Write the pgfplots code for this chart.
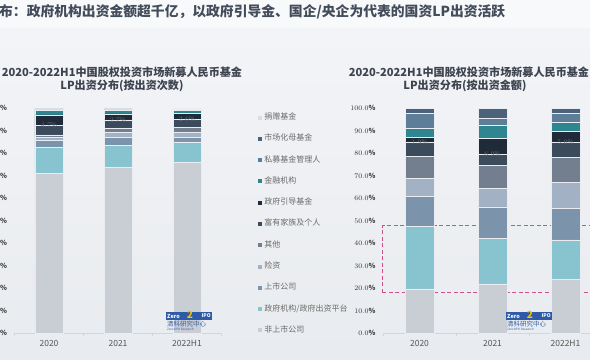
\documentclass[border=0pt]{standalone}
\usepackage{pgfplots}
\pgfplotsset{compat=1.18}
\usepackage{pgfplotstable}
\usepackage{fontspec}
\setmainfont{Noto Sans CJK SC}

\definecolor{cNon}{HTML}{C9CDD4}
\definecolor{cGov}{HTML}{88C4CF}
\definecolor{cList}{HTML}{7B93AB}
\definecolor{cIns}{HTML}{A2B2C4}
\definecolor{cOth}{HTML}{737F8F}
\definecolor{cFam}{HTML}{3C4B5C}
\definecolor{cGuide}{HTML}{1F2B38}
\definecolor{cFin}{HTML}{2E8691}
\definecolor{cPE}{HTML}{5E7D99}
\definecolor{cFoF}{HTML}{4C627A}
\definecolor{cEnd}{HTML}{DADDE2}
\definecolor{sepc}{HTML}{E9ECF0}
\definecolor{bgtop}{HTML}{F8F9FB}
\definecolor{bgmid}{HTML}{F3F4F7}
\definecolor{bgbot}{HTML}{E8EBEF}
\definecolor{axisgray}{HTML}{D3D7DC}
\definecolor{ticktext}{HTML}{333333}
\definecolor{xlabtext}{HTML}{555555}
\definecolor{legtext}{HTML}{6B6B6B}
\definecolor{titlec}{HTML}{3D4450}
\definecolor{headc}{HTML}{434C5B}
\definecolor{pinkc}{HTML}{D0508A}
\definecolor{logob}{HTML}{2F5AA8}
\definecolor{logoy}{HTML}{F2C01E}

% columns: x non gov list ins oth fam guide fin pe fof end
\pgfplotstableread{
x non  gov  list ins oth fam guide fin pe  fof end
0 70.8 11.6 3.1  1.3 1.3 4.2 4.7   2.2 0.4 0.2 0.2
1 73.6 9.9  3.6  2.2 1.8 3.6 2.7   1.8 0.4 0.3 0.1
2 75.9 9.0  2.2  2.2 2.0 3.8 2.6   1.4 0.4 0.3 0.2
}\countdata
\pgfplotstableread{
x non  gov  list ins  oth  fam guide fin pe  fof end
0 19.6 27.8 13.4 8.0  9.8  6.4 1.9   4.2 6.4 2.3 0.2
1 21.8 20.4 13.9 8.1  10.2 5.1 6.9   5.8 3.2 4.4 0.2
2 23.9 17.5 14.1 11.4 11.1 6.7 5.0   4.0 3.9 2.3 0.1
}\amountdata

\pgfplotsset{
  mybase/.style={
    scale only axis,
    height=225bp,
    ybar stacked,
    ymin=0, ymax=100,
    xmin=-0.5, xmax=2.5,
    enlargelimits=false,
    axis lines*=left,
    y axis line style={draw=none},
    x axis line style={draw=axisgray, line width=0.8bp},
    xtick={0,1,2},
    xticklabels={2020,2021,2022H1},
    minor xtick={-0.5,0.5,1.5,2.5},
    major tick length=0pt,
    minor tick length=3bp,
    tick align=outside,
    xtick style={draw=none},
    ytick style={draw=none},
    minor x tick style={draw=axisgray, line width=0.6bp},
    ytick={0,10,...,100},
    xticklabel style={font=\fontsize{8.5bp}{10bp}\selectfont, text=xlabtext, yshift=-3.5bp},
    yticklabel style={font=\bfseries\fontsize{7bp}{8bp}\selectfont, text=ticktext, xshift=-4bp},
    every axis plot/.append style={draw=sepc, line width=0.5bp},
  },
  guidelabel/.style={
    nodes near coords={\pgfmathprintnumber[fixed,fixed zerofill,precision=1]{\pgfplotspointmeta}\%},
    point meta=explicit,
    visualization depends on={rawy \as \rawy},
    every node near coord/.append style={anchor=center, yshift={-1.125bp*\rawy}, font=\fontsize{6.5bp}{7bp}\selectfont, text=#1, inner sep=0pt},
  },
}

\begin{document}
\begin{tikzpicture}
\useasboundingbox (0bp,0bp) rectangle (590bp,-360bp);
\clip (0bp,0bp) rectangle (590bp,-360bp);
\shade[top color=bgmid, bottom color=bgbot] (0bp,-28bp) rectangle (590bp,-360bp);
\fill[bgtop] (0bp,0bp) rectangle (590bp,-28bp);

% header
\node[anchor=west, inner sep=0pt, font=\bfseries\fontsize{13.8bp}{16bp}\selectfont, text=headc] at (-1bp,-12bp)
  {布：政府机构出资金额超千亿，以政府引导金、国企/央企为代表的国资LP出资活跃};

% titles
\node[inner sep=0pt, font=\bfseries\fontsize{11.1bp}{13bp}\selectfont, text=titlec] at (122bp,-72bp) {2020-2022H1中国股权投资市场新募人民币基金};
\node[inner sep=0pt, font=\bfseries\fontsize{11.1bp}{13bp}\selectfont, text=titlec] at (122bp,-86bp) {LP出资分布(按出资次数)};
\node[inner sep=0pt, font=\bfseries\fontsize{11.1bp}{13bp}\selectfont, text=titlec] at (469bp,-72bp) {2020-2022H1中国股权投资市场新募人民币基金};
\node[inner sep=0pt, font=\bfseries\fontsize{11.1bp}{13bp}\selectfont, text=titlec] at (465bp,-86bp) {LP出资分布(按出资金额)};

% left chart
\begin{axis}[mybase,
  at={(14.5bp,-333bp)}, anchor=south west,
  width=207bp, bar width=28bp,
  yticklabel={\pgfmathprintnumber[fixed,precision=0]{\tick}\%},
  reverse legend,
  legend image code/.code={\fill[#1,draw=none] (0bp,-2bp) rectangle (4bp,2bp);},
  legend style={at={(1.176,0.975)}, anchor=north west, draw=none, fill=none,
    inner sep=0pt, outer sep=0pt, row sep=13.27bp,
    font=\fontsize{8bp}{9bp}\selectfont, text=legtext,
    nodes={inner sep=0pt, text height=6bp, text depth=2bp},
    /tikz/every odd column/.append style={column sep=2.5bp}},
  legend cell align=left,
]
\addplot[fill=cNon] table[x=x,y=non] {\countdata};
\addplot[fill=cGov] table[x=x,y=gov] {\countdata};
\addplot[fill=cList] table[x=x,y=list] {\countdata};
\addplot[fill=cIns] table[x=x,y=ins] {\countdata};
\addplot[fill=cOth] table[x=x,y=oth] {\countdata};
\addplot[fill=cFam] table[x=x,y=fam] {\countdata};
\addplot[fill=cGuide, guidelabel=cFam!80!white] table[x=x,y=guide,meta=guide] {\countdata};
\addplot[fill=cFin] table[x=x,y=fin] {\countdata};
\addplot[fill=cPE] table[x=x,y=pe] {\countdata};
\addplot[fill=cFoF] table[x=x,y=fof] {\countdata};
\addplot[fill=cEnd] table[x=x,y=end] {\countdata};
\legend{非上市公司,政府机构/政府出资平台,上市公司,险资,其他,富有家族及个人,政府引导基金,金融机构,私募基金管理人,市场化母基金,捐赠基金}
\end{axis}

% right chart
\begin{axis}[mybase,
  at={(383bp,-333bp)}, anchor=south west,
  width=219bp, bar width=29bp,
  clip=false,
  yticklabel={\pgfmathprintnumber[fixed,fixed zerofill,precision=1]{\tick}\%},
]
\addplot[fill=cNon] table[x=x,y=non] {\amountdata};
\addplot[fill=cGov] table[x=x,y=gov] {\amountdata};
\addplot[fill=cList] table[x=x,y=list] {\amountdata};
\addplot[fill=cIns] table[x=x,y=ins] {\amountdata};
\addplot[fill=cOth] table[x=x,y=oth] {\amountdata};
\addplot[fill=cFam] table[x=x,y=fam] {\amountdata};
\addplot[fill=cGuide, guidelabel=cFam!80!white] table[x=x,y=guide,meta=guide] {\amountdata};
\addplot[fill=cFin] table[x=x,y=fin] {\amountdata};
\addplot[fill=cPE] table[x=x,y=pe] {\amountdata};
\addplot[fill=cFoF] table[x=x,y=fof] {\amountdata};
\addplot[fill=cEnd] table[x=x,y=end] {\amountdata};
\draw[pinkc, line width=1.1bp, dash pattern=on 4bp off 2.5bp] (axis cs:-0.505,17.9) rectangle (axis cs:2.7,47.6);
\end{axis}

% logos
\foreach \lx in {166,506} {
  \begin{scope}[shift={(\lx bp,0bp)}]
  \fill[logob] (0bp,-312bp) rectangle (46bp,-320bp);
  \node[anchor=west, inner sep=0pt, font=\bfseries\itshape\fontsize{5.5bp}{6bp}\selectfont, text=white] at (1bp,-316bp) {Zero};
  \node[inner sep=0pt, font=\bfseries\fontsize{10bp}{10bp}\selectfont, text=logoy] at (24bp,-315bp) {2};
  \node[anchor=east, inner sep=0pt, font=\bfseries\fontsize{5bp}{6bp}\selectfont, text=white] at (45bp,-316bp) {IPO};
  \node[anchor=west, inner sep=0pt, font=\fontsize{6.5bp}{7bp}\selectfont, text=logob] at (1bp,-324.5bp) {清科研究中心};
  \node[anchor=west, inner sep=0pt, font=\fontsize{3bp}{3.5bp}\selectfont, text=logob] at (1bp,-329.5bp) {Zero2IPO Research};
  \end{scope}
}
\end{tikzpicture}
\end{document}
